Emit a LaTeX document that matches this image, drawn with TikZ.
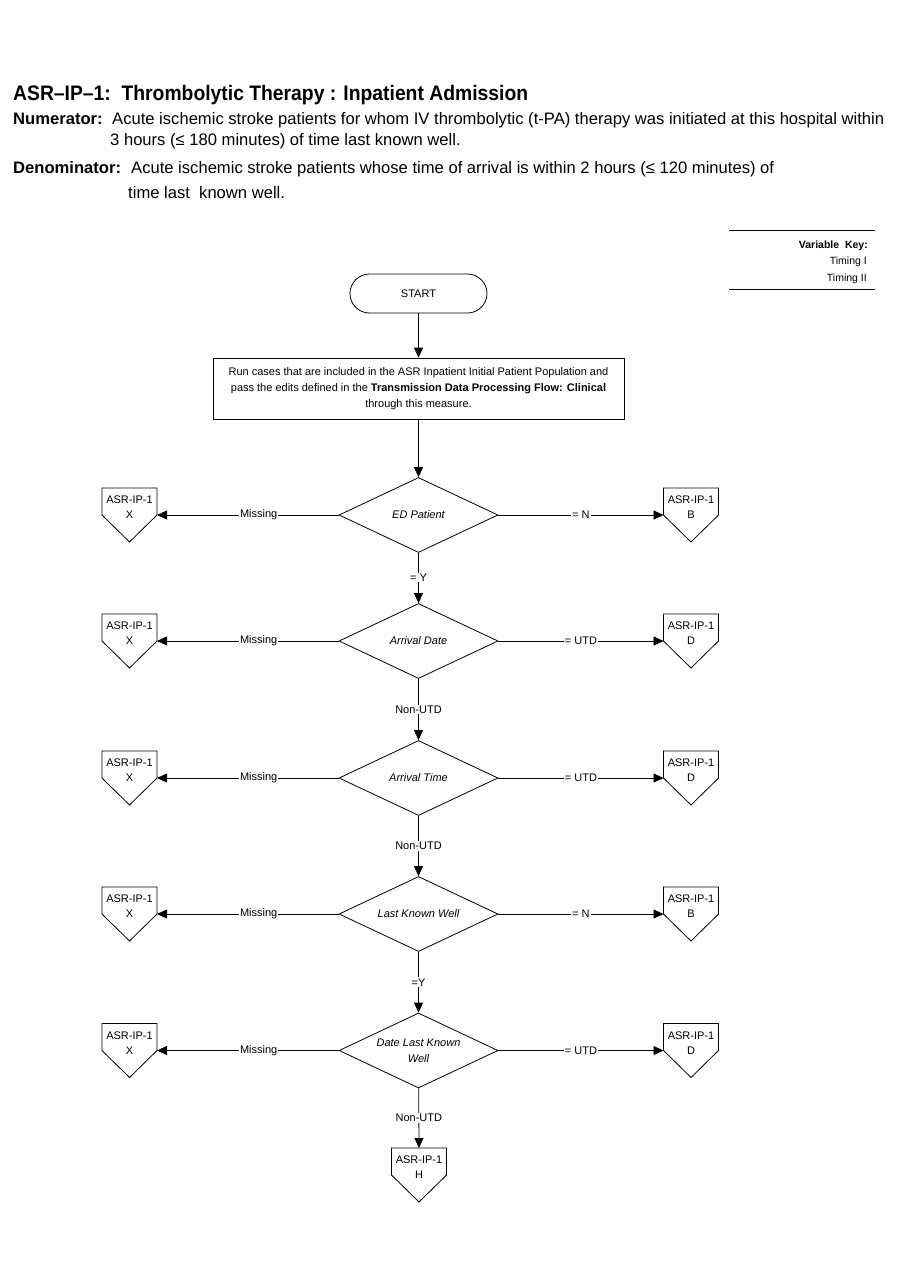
\documentclass[tikz,border=0pt]{standalone}
\usepackage{fontspec}
\setmainfont{Liberation Sans}
\newfontfamily\hdfont{Liberation Sans}
\newfontfamily\ttlfont[FakeStretch=0.92]{Liberation Sans}
\usetikzlibrary{shapes.geometric,arrows.meta,calc}
\newcommand\offpg[4]{%
  \node[optext] (#1) at (#2,#3-7.5) {ASR-IP-1\\#4};
  \coordinate (#1-w) at (#2-27.5,#3);
  \coordinate (#1-e) at (#2+27.5,#3);
  \coordinate (#1-n) at (#2,#3-27);
  \draw[line] (#2-27.5,#3-27) -- (#2+27.5,#3-27) -- (#1-e) -- (#2,#3+27) -- (#1-w) -- cycle;
}
\begin{document}
\begin{tikzpicture}[x=1pt,y=-1pt,
  line/.style={draw=black,line width=0.8pt},
  arr/.style={line,-{Triangle[length=10pt,width=9pt]}},
  small/.style={font=\fontsize{11}{15}\selectfont},
  optext/.style={small,align=center,inner sep=0pt},
  dec/.style={diamond,aspect=2.12,draw,line width=0.8pt,minimum width=159pt,minimum height=75pt,
    inner sep=0pt,align=center,font=\fontsize{11}{16}\selectfont\itshape},
  lbl/.style={fill=white,inner sep=1pt,font=\fontsize{11}{13}\selectfont},
  hd/.style={anchor=base west,inner sep=0pt,font=\hdfont\fontsize{16.6}{20}\selectfont},
  key/.style={anchor=base east,inner sep=0pt,font=\fontsize{10.5}{13}\selectfont},
]
\useasboundingbox (0,0) rectangle (900,1275);
\fill[white] (0,0) rectangle (900,1275);

% header
\node[hd,font=\ttlfont\fontsize{21}{24}\selectfont\bfseries] (title) at (13,100)
  {ASR–IP–1:\ \ Thrombolytic Therapy : Inpatient Admission};
\node[hd,font=\hdfont\fontsize{16.6}{20}\selectfont\bfseries] (numl) at (13,124) {Numerator:};
\node[hd] (num1) at (112,124) {Acute ischemic stroke patients for whom IV thrombolytic (t-PA) therapy was initiated at this hospital within};
\node[hd] (num2) at (110,145) {3 hours (≤ 180 minutes) of time last known well.};
\node[hd,font=\hdfont\fontsize{16.6}{20}\selectfont\bfseries] (denl) at (13,173) {Denominator:};
\node[hd] (den1) at (131,173) {Acute ischemic stroke patients whose time of arrival is within 2 hours (≤ 120 minutes) of};
\node[hd] (den2) at (128,198) {time last\ \ known well.};

% variable key
\coordinate (k1a) at (729,230); \coordinate (k1b) at (875,230);
\coordinate (k2a) at (729,289); \coordinate (k2b) at (875,289);
\draw[line] (k1a) -- (k1b);
\draw[line] (k2a) -- (k2b);
\node[key,font=\fontsize{10.5}{13}\selectfont\bfseries] (vk) at (868,248) {Variable\ \ Key:};
\node[key] (t1) at (867,264) {Timing I};
\node[key] (t2) at (867,281) {Timing II};

% start and process
\node[draw,line width=0.8pt,rounded corners=19.5pt,minimum width=137pt,minimum height=39pt,
  inner sep=0pt,small] (start) at (418.5,293.5) {START};
\node[draw,line width=0.8pt,minimum width=411pt,minimum height=61pt,inner sep=0pt,
  align=center,font=\fontsize{11}{16}\selectfont] (run) at (418.5,388.5)
  {Run cases that are included in the ASR Inpatient Initial Patient Population and\\
   pass the edits defined in the \textbf{Transmission Data Processing Flow: Clinical}\\
   through this measure.};
\draw[arr] (start) -- (run);

% decisions
\node[dec] (d1) at (418.5,515) {ED Patient};
\node[dec] (d2) at (418.5,641) {Arrival Date};
\node[dec] (d3) at (418.5,778) {Arrival Time};
\node[dec] (d4) at (418.5,914) {Last Known Well};
\node[dec] (d5) at (418.5,1050.5) {Date Last Known\\Well};

\offpg{x1}{129.5}{515}{X}
\offpg{r1}{691}{515}{B}
\offpg{x2}{129.5}{641}{X}
\offpg{r2}{691}{641}{D}
\offpg{x3}{129.5}{778}{X}
\offpg{r3}{691}{778}{D}
\offpg{x4}{129.5}{914}{X}
\offpg{r4}{691}{914}{B}
\offpg{x5}{129.5}{1050.5}{X}
\offpg{r5}{691}{1050.5}{D}
\offpg{h}{419}{1175}{H}

\draw[arr] (run) -- (d1);
\draw[arr] (d1) -- node[lbl,pos=0.49] {= Y} (d2);
\draw[arr] (d2) -- node[lbl] {Non-UTD} (d3);
\draw[arr] (d3) -- node[lbl] {Non-UTD} (d4);
\draw[arr] (d4) -- node[lbl] {=Y} (d5);
\draw[arr] (d5) -- node[lbl,pos=0.5] {Non-UTD} (h-n);

\draw[arr] (d1.west) -- node[lbl,pos=0.44] {Missing} (x1-e);
\draw[arr] (d2.west) -- node[lbl,pos=0.44] {Missing} (x2-e);
\draw[arr] (d3.west) -- node[lbl,pos=0.44] {Missing} (x3-e);
\draw[arr] (d4.west) -- node[lbl,pos=0.44] {Missing} (x4-e);
\draw[arr] (d5.west) -- node[lbl,pos=0.44] {Missing} (x5-e);

\draw[arr] (d1.east) -- node[lbl,pos=0.5] {= N} (r1-w);
\draw[arr] (d2.east) -- node[lbl,pos=0.5] {= UTD} (r2-w);
\draw[arr] (d3.east) -- node[lbl,pos=0.5] {= UTD} (r3-w);
\draw[arr] (d4.east) -- node[lbl,pos=0.5] {= N} (r4-w);
\draw[arr] (d5.east) -- node[lbl,pos=0.5] {= UTD} (r5-w);
\end{tikzpicture}
\end{document}
